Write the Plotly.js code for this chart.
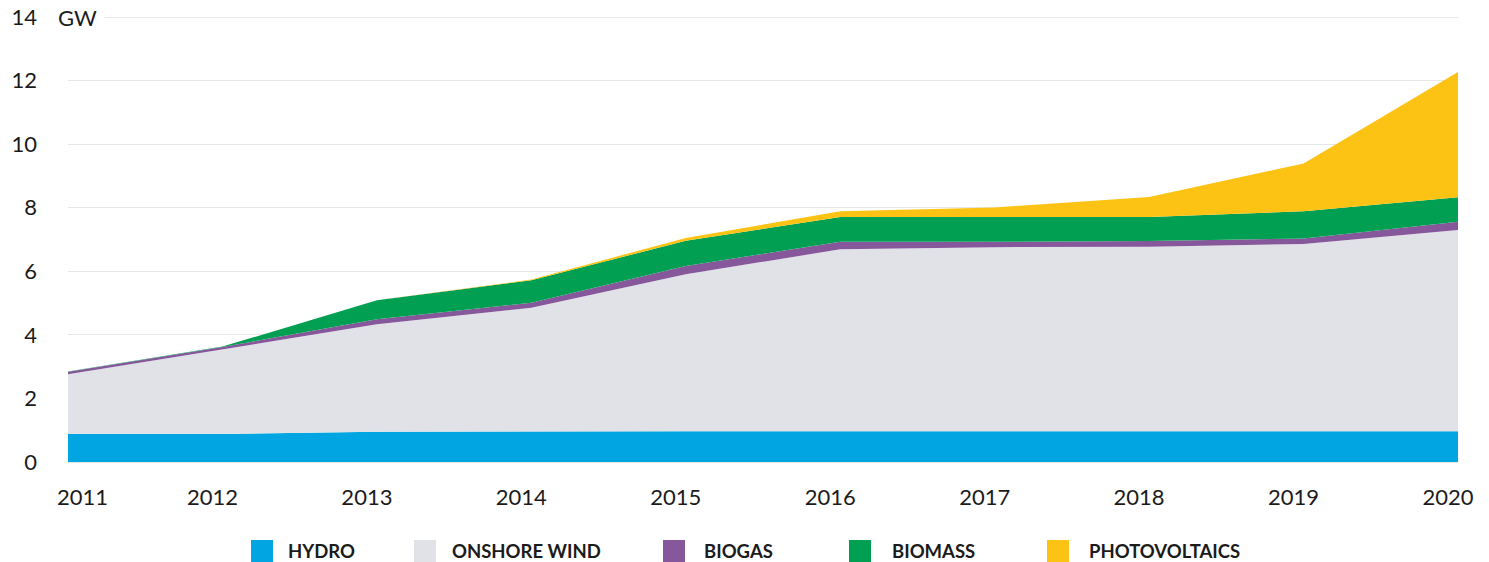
<!DOCTYPE html>
<html>
<head>
<meta charset="utf-8">
<script src="https://cdn.plot.ly/plotly-3.0.1.min.js"></script>
<style>
  html, body { margin: 0; padding: 0; background: #ffffff; }
  #chart { width: 1489px; height: 562px; }
</style>
</head>
<body>
<div id="chart"></div>
<script>
// ---- data (GW, stacked) ----
const years = [2011, 2012, 2013, 2014, 2015, 2016, 2017, 2018, 2019, 2020];
const hydro        = [0.88, 0.88, 0.95, 0.97, 0.97, 0.97, 0.97, 0.97, 0.97, 0.97];
const onshoreWind  = [1.88, 2.67, 3.38, 3.88, 4.94, 5.72, 5.79, 5.80, 5.89, 6.33];
const biogas       = [0.08, 0.07, 0.16, 0.16, 0.26, 0.24, 0.17, 0.18, 0.17, 0.26];
const biomass      = [0.01, 0.01, 0.60, 0.71, 0.79, 0.78, 0.78, 0.76, 0.86, 0.77];
const photovoltaics= [0.00, 0.00, 0.00, 0.02, 0.09, 0.18, 0.30, 0.63, 1.50, 3.94];

const seriesNames = ['HYDRO', 'ONSHORE WIND', 'BIOGAS', 'BIOMASS', 'PHOTOVOLTAICS'];
const yTicks = [0, 2, 4, 6, 8, 10, 12, 14];
const unitLabel = 'GW';

// ---- styles ----
const seriesValues = [hydro, onshoreWind, biogas, biomass, photovoltaics];
const colors = ['#00A5E1', '#E1E2E7', '#86579B', '#009F51', '#FCC314'];
const FONT = 'Lato, "Open Sans", sans-serif';
const TEXT = '#1b1b1b';

const W = 1489, H = 562;
// value 0 sits at 462 px and value 14 at 17 px; the plot box is a bit larger so edge gridlines show
const PPU = (462 - 17) / 14;
const M = { l: 68, r: 31, t: 14, b: 98 };
const yMax = 14 + (17 - M.t) / PPU;
const yMin = -((H - M.b) - 462) / PPU;
const plotW = W - M.l - M.r, plotH = H - M.t - M.b;
const px2paperX = px => (px - M.l) / plotW;
const px2paperY = py => (H - M.b - py) / plotH;

const traces = seriesNames.map((name, i) => ({
  type: 'scatter',
  mode: 'lines',
  x: years,
  y: seriesValues[i],
  name: name,
  stackgroup: 'one',
  fillcolor: colors[i],
  line: { color: colors[i], width: 0 },
  showlegend: false,
  hoverinfo: 'x+y+name'
}));

// Custom legend (square swatches + bold labels), positioned like the reference
const legendSwatchLeft = [251, 414, 663, 849, 1047];
const legendTextLeft   = [287, 451, 703, 891, 1088];
const legendCenterY = 551;

const shapes = seriesNames.map((name, i) => ({
  type: 'rect',
  xref: 'paper', yref: 'paper',
  xsizemode: 'pixel', ysizemode: 'pixel',
  xanchor: px2paperX(legendSwatchLeft[i]),
  yanchor: px2paperY(legendCenterY),
  x0: 0, x1: 22, y0: -11, y1: 11,
  fillcolor: colors[i],
  line: { width: 0 }
}));

const annotations = seriesNames.map((name, i) => ({
  text: name,
  xref: 'paper', yref: 'paper',
  x: px2paperX(legendTextLeft[i]), y: px2paperY(legendCenterY),
  xanchor: 'left', yanchor: 'middle',
  showarrow: false,
  borderpad: 0,
  font: { family: FONT, size: 18.5, color: TEXT, weight: 'bold' }
}));

// unit label over the top gridline
annotations.push({
  text: unitLabel,
  xref: 'paper', yref: 'paper',
  x: px2paperX(77.5), y: px2paperY(17),
  xanchor: 'center', yanchor: 'middle',
  showarrow: false,
  bgcolor: '#ffffff',
  borderpad: 7,
  font: { family: FONT, size: 22, color: TEXT }
});

// first year label sits slightly to the right of its tick
annotations.push({
  text: String(years[0]),
  xref: 'x', yref: 'paper',
  x: years[0], y: px2paperY(496),
  xanchor: 'center', yanchor: 'middle',
  xshift: 14,
  showarrow: false,
  font: { family: FONT, size: 22, color: TEXT }
});

const layout = {
  width: W, height: H,
  margin: M,
  paper_bgcolor: '#ffffff',
  plot_bgcolor: '#ffffff',
  font: { family: FONT, size: 22, color: TEXT },
  showlegend: false,
  hovermode: 'x unified',
  xaxis: {
    range: [years[0], years[years.length - 1]],
    tickvals: years,
    ticktext: years.map((y, i) => i === 0 ? '' : String(y)),
    ticks: '',
    ticklabelshift: -10,
    ticklabelstandoff: 18,
    showgrid: false,
    zeroline: false,
    showline: false,
    tickfont: { family: FONT, size: 22, color: TEXT },
    fixedrange: true
  },
  yaxis: {
    range: [yMin, yMax],
    tickvals: yTicks,
    ticks: '',
    ticklabelstandoff: 30,
    showgrid: true,
    gridcolor: '#e6e6e6',
    gridwidth: 1,
    zeroline: false,
    showline: false,
    tickfont: { family: FONT, size: 22, color: TEXT },
    fixedrange: true
  },
  shapes: shapes,
  annotations: annotations
};

Plotly.newPlot('chart', traces, layout, { displayModeBar: false, staticPlot: false, responsive: false });
</script>
</body>
</html>
